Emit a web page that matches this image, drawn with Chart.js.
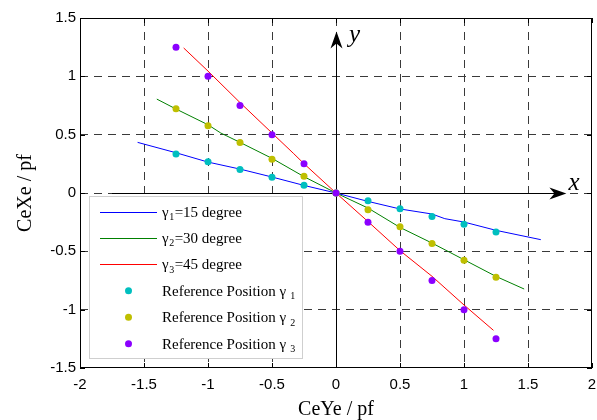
<!DOCTYPE html>
<html><head><meta charset="utf-8">
<script src="https://cdn.jsdelivr.net/npm/chart.js@4.4.0/dist/chart.umd.min.js"></script>
<style>html,body{margin:0;padding:0;background:#fff;}#wrap{width:597px;height:420px;position:relative;}</style>
</head><body><div id="wrap"><canvas id="c" width="597" height="420"></canvas></div>
<script>
// ---- data ----
const refX  = [-1.25, -1, -0.75, -0.5, -0.25, 0, 0.25, 0.5, 0.75, 1, 1.25];
const ref1Y = [0.335, 0.268, 0.201, 0.134, 0.067, 0, -0.067, -0.134, -0.201, -0.268, -0.335];
const ref2Y = [0.722, 0.577, 0.433, 0.289, 0.144, 0, -0.144, -0.289, -0.433, -0.577, -0.722];
const ref3Y = [1.25, 1, 0.75, 0.5, 0.25, 0, -0.25, -0.5, -0.75, -1, -1.25];

const line1X = [-1.55, -1.25, -1, -0.75, -0.5, -0.25, 0, 0.25, 0.5, 0.75, 0.85, 1, 1.25, 1.6];
const line1Y = [0.434, 0.345, 0.265, 0.205, 0.137, 0.065, 0, -0.072, -0.137, -0.18, -0.22, -0.249, -0.32, -0.40];
const line2X = [-1.4, -1.25, -1, -0.9, -0.75, -0.5, -0.25, 0, 0.25, 0.5, 0.75, 1, 1.25, 1.47];
const line2Y = [0.805, 0.72, 0.585, 0.514, 0.434, 0.297, 0.14, 0, -0.129, -0.295, -0.429, -0.572, -0.715, -0.823];
const line3X = [-1.19, -1, -0.75, -0.5, -0.33, -0.25, 0, 0.25, 0.5, 0.75, 1, 1.23];
const line3Y = [1.243, 1.045, 0.775, 0.514, 0.337, 0.251, 0, -0.245, -0.494, -0.714, -0.96, -1.177];

const xTicks = [-2, -1.5, -1, -0.5, 0, 0.5, 1, 1.5, 2];
const xTickLabels = ['-2', '-1.5', '-1', '-0.5', '0', '0.5', '1', '1.5', '2'];
const yTicks = [-1.5, -1, -0.5, 0, 0.5, 1, 1.5];
const yTickLabels = ['-1.5', '-1', '-0.5', '0', '0.5', '1', '1.5'];

const xTitle = 'CeYe / pf';
const yTitle = 'CeXe / pf';
// legend: [main text, subscript, trailing text]
const legendTexts = [
  ['\u03B3', '1', '=15 degree'],
  ['\u03B3', '2', '=30 degree'],
  ['\u03B3', '3', '=45 degree'],
  ['Reference Position \u03B3 ', '1', ''],
  ['Reference Position \u03B3 ', '2', ''],
  ['Reference Position \u03B3 ', '3', '']
];
const arrowTipX = 1.8;   // x-axis arrow tip (data units)
const arrowTipY = 1.385; // y-axis arrow tip (data units)
const axisStartX = -1.75;

// ---- styles ----
const lineColors = ['#0000FF', '#008000', '#FF0000'];
const pointColors = ['#00BFBF', '#BFBF00', '#8B00FF'];
const pts = (xs, ys) => xs.map((x, i) => ({x: x, y: ys[i]}));

const datasets = [
  {data: pts(line1X, line1Y), borderColor: lineColors[0], showLine: true, pointRadius: 0, borderWidth: 1, order: 5},
  {data: pts(line2X, line2Y), borderColor: lineColors[1], showLine: true, pointRadius: 0, borderWidth: 1, order: 4},
  {data: pts(line3X, line3Y), borderColor: lineColors[2], showLine: true, pointRadius: 0, borderWidth: 1, order: 3},
  {data: pts(refX, ref1Y), showLine: false, pointRadius: 3.5, pointBackgroundColor: pointColors[0], pointBorderWidth: 0, backgroundColor: pointColors[0], borderColor: pointColors[0], order: 2},
  {data: pts(refX, ref2Y), showLine: false, pointRadius: 3.5, pointBackgroundColor: pointColors[1], pointBorderWidth: 0, backgroundColor: pointColors[1], borderColor: pointColors[1], order: 1},
  {data: pts(refX, ref3Y), showLine: false, pointRadius: 3.5, pointBackgroundColor: pointColors[2], pointBorderWidth: 0, backgroundColor: pointColors[2], borderColor: pointColors[2], order: 0}
];

function drawArrow(ctx, tx, ty, dx, dy) {
  const len = 17, half = 6, notch = 5;
  const px = -dy, py = dx;
  ctx.beginPath();
  ctx.moveTo(tx, ty);
  ctx.lineTo(tx - dx * len + px * half, ty - dy * len + py * half);
  ctx.lineTo(tx - dx * (len - notch), ty - dy * (len - notch));
  ctx.lineTo(tx - dx * len - px * half, ty - dy * len - py * half);
  ctx.closePath();
  ctx.fill();
}

const decor = {
  id: 'decor',
  beforeDatasetsDraw(chart) {
    const ctx = chart.ctx, a = chart.chartArea;
    const xs = chart.scales.x, ys = chart.scales.y;
    ctx.save();
    ctx.strokeStyle = '#000';
    ctx.lineWidth = 1;
    ctx.strokeRect(Math.round(a.left) + 0.5, Math.round(a.top) + 0.5, Math.round(a.right - a.left) - 1, Math.round(a.bottom - a.top) - 1);
    // inward ticks
    ctx.beginPath();
    xTicks.forEach(v => {
      const p = Math.round(xs.getPixelForValue(v)) + 0.5;
      ctx.moveTo(p, a.bottom); ctx.lineTo(p, a.bottom - 5);
      ctx.moveTo(p, a.top); ctx.lineTo(p, a.top + 5);
    });
    yTicks.forEach(v => {
      const p = Math.round(ys.getPixelForValue(v)) + 0.5;
      ctx.moveTo(a.left, p); ctx.lineTo(a.left + 5, p);
      ctx.moveTo(a.right, p); ctx.lineTo(a.right - 5, p);
    });
    ctx.stroke();
    // solid axes with arrows
    const y0 = Math.round(ys.getPixelForValue(0)) + 0.5;
    const x0 = Math.round(xs.getPixelForValue(0)) + 0.5;
    const tipX = xs.getPixelForValue(arrowTipX);
    const tipY = ys.getPixelForValue(arrowTipY);
    ctx.beginPath();
    ctx.moveTo(xs.getPixelForValue(axisStartX), y0); ctx.lineTo(tipX - 8, y0);
    ctx.moveTo(x0, a.bottom); ctx.lineTo(x0, tipY + 8);
    ctx.stroke();
    ctx.fillStyle = '#000';
    drawArrow(ctx, tipX, y0, 1, 0);
    drawArrow(ctx, x0, tipY, 0, -1);
    ctx.restore();
  },
  afterDraw(chart) {
    const ctx = chart.ctx, a = chart.chartArea;
    const xs = chart.scales.x, ys = chart.scales.y;
    ctx.save();
    // axis letters
    ctx.fillStyle = '#000';
    ctx.font = 'italic 25px "Liberation Serif"';
    ctx.textBaseline = 'alphabetic';
    ctx.textAlign = 'left';
    ctx.fillText('x', xs.getPixelForValue(arrowTipX) + 2, ys.getPixelForValue(0) - 3);
    ctx.fillText('y', xs.getPixelForValue(0) + 13, ys.getPixelForValue(arrowTipY) + 11);
    // legend box
    const L = 89, T = 196, R = 303, B = 359;
    ctx.fillStyle = '#fff';
    ctx.fillRect(L, T, R - L, B - T);
    ctx.strokeStyle = '#cfcfcf';
    ctx.lineWidth = 1;
    ctx.strokeRect(L + 0.5, T + 0.5, R - L - 1, B - T - 1);
    const rowY0 = 211.5, step = 26.45;
    legendTexts.forEach((t, i) => {
      const yy = rowY0 + step * i;
      if (i < 3) {
        ctx.strokeStyle = lineColors[i];
        ctx.beginPath();
        ctx.moveTo(100, Math.round(yy) + 0.5); ctx.lineTo(157, Math.round(yy) + 0.5);
        ctx.stroke();
      } else {
        ctx.fillStyle = pointColors[i - 3];
        ctx.beginPath();
        ctx.arc(128.5, yy, 3.5, 0, Math.PI * 2);
        ctx.fill();
      }
      ctx.fillStyle = '#000';
      let x = 162;
      const base = yy + 5;
      ctx.font = '15px "Liberation Serif"';
      ctx.fillText(t[0], x, base);
      x += ctx.measureText(t[0]).width;
      ctx.font = '10px "Liberation Serif"';
      ctx.fillText(t[1], x + 0.5, base + 3.5);
      x += ctx.measureText(t[1]).width + 1;
      ctx.font = '15px "Liberation Serif"';
      if (t[2]) ctx.fillText(t[2], x, base);
    });
    ctx.restore();
  }
};

const gridColor = (ends) => (c) => (c.tick && ends.includes(c.tick.value)) ? 'rgba(0,0,0,0)' : '#3a3a3a';

new Chart(document.getElementById('c'), {
  type: 'scatter',
  data: {datasets: datasets},
  options: {
    responsive: false,
    animation: false,
    devicePixelRatio: 1,
    layout: {padding: {left: 0, right: 5, top: 18, bottom: 0}},
    plugins: {legend: {display: false}, tooltip: {enabled: false}},
    elements: {line: {tension: 0}},
    scales: {
      x: {
        type: 'linear', min: -2, max: 2,
        afterBuildTicks: s => { s.ticks = xTicks.map(v => ({value: v})); },
        afterFit: s => { s.height = 52; s.paddingLeft = 0; s.paddingRight = 0; },
        ticks: {
          callback: v => xTickLabels[xTicks.indexOf(v)],
          font: {family: '"Liberation Sans"', size: 15}, color: '#000',
          padding: 8, maxRotation: 0, autoSkip: false
        },
        grid: {color: gridColor([-2, 2]), lineWidth: 1, drawTicks: false},
        border: {display: false, dash: [8, 6]},
        title: {display: true, text: xTitle, color: '#000',
          font: {family: '"Liberation Serif"', size: 20, lineHeight: 1}, padding: {top: 0, bottom: 0}}
      },
      y: {
        type: 'linear', min: -1.5, max: 1.5,
        afterBuildTicks: s => { s.ticks = yTicks.map(v => ({value: v})); },
        afterFit: s => { s.width = 80; s.paddingTop = 0; s.paddingBottom = 0; },
        ticks: {
          callback: v => yTickLabels[yTicks.indexOf(v)],
          font: {family: '"Liberation Sans"', size: 15}, color: '#000',
          padding: 4, autoSkip: false
        },
        grid: {color: gridColor([-1.5, 1.5]), lineWidth: 1, drawTicks: false},
        border: {display: false, dash: [8, 6]},
        title: {display: true, text: yTitle, color: '#000',
          font: {family: '"Liberation Serif"', size: 20, lineHeight: 1}, padding: {top: 16, bottom: 0}}
      }
    }
  },
  plugins: [decor]
});
</script>
</body></html>
